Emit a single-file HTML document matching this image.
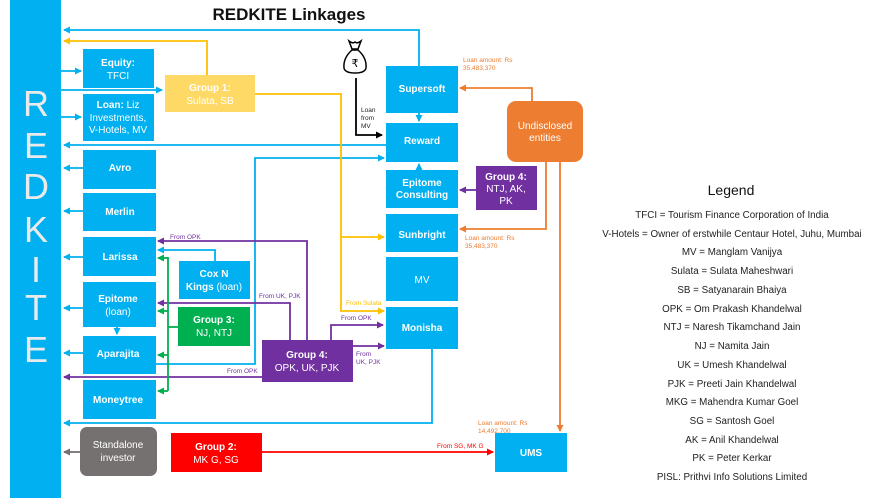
<!DOCTYPE html>
<html><head><meta charset="utf-8"><style>
html,body{margin:0;padding:0;background:#fff;}
svg{display:block;font-family:"Liberation Sans",sans-serif;}
.bw{fill:#fff;font-weight:bold;font-size:10px;text-anchor:middle;}
.w{fill:#fff;font-size:10px;text-anchor:middle;}
.lg{font-size:9.8px;text-anchor:middle;fill:#222;}
.s{font-size:6.5px;}
</style></head><body>
<svg width="885" height="498" viewBox="0 0 885 498" xmlns="http://www.w3.org/2000/svg">
<defs>
<marker id="ab" markerWidth="8" markerHeight="8" refX="6" refY="4" orient="auto" markerUnits="userSpaceOnUse"><path d="M0,0.5 L7,4 L0,7.5z" fill="#00b0f0"/></marker>
<marker id="ay" markerWidth="8" markerHeight="8" refX="6" refY="4" orient="auto" markerUnits="userSpaceOnUse"><path d="M0,0.5 L7,4 L0,7.5z" fill="#ffc000"/></marker>
<marker id="ap" markerWidth="8" markerHeight="8" refX="6" refY="4" orient="auto" markerUnits="userSpaceOnUse"><path d="M0,0.5 L7,4 L0,7.5z" fill="#7030a0"/></marker>
<marker id="ag" markerWidth="8" markerHeight="8" refX="6" refY="4" orient="auto" markerUnits="userSpaceOnUse"><path d="M0,0.5 L7,4 L0,7.5z" fill="#00b050"/></marker>
<marker id="ao" markerWidth="8" markerHeight="8" refX="6" refY="4" orient="auto" markerUnits="userSpaceOnUse"><path d="M0,0.5 L7,4 L0,7.5z" fill="#ed7d31"/></marker>
<marker id="ar" markerWidth="8" markerHeight="8" refX="6" refY="4" orient="auto" markerUnits="userSpaceOnUse"><path d="M0,0.5 L7,4 L0,7.5z" fill="#ff0000"/></marker>
<marker id="ak" markerWidth="8" markerHeight="8" refX="6" refY="4" orient="auto" markerUnits="userSpaceOnUse"><path d="M0,0.5 L7,4 L0,7.5z" fill="#000"/></marker>
<marker id="agr" markerWidth="8" markerHeight="8" refX="6" refY="4" orient="auto" markerUnits="userSpaceOnUse"><path d="M0,0.5 L7,4 L0,7.5z" fill="#767171"/></marker>
</defs>

<rect x="10" y="0" width="51" height="498" fill="#00b0f0"/>
<g fill="#eaeaea" font-size="36" text-anchor="middle">
<text x="36" y="116">R</text><text x="36" y="158">E</text><text x="36" y="199">D</text><text x="36" y="242">K</text><text x="36" y="282">I</text><text x="36" y="320">T</text><text x="36" y="362">E</text>
</g>
<text x="289" y="20" font-size="17" font-weight="bold" text-anchor="middle" fill="#111">REDKITE Linkages</text>

<g stroke="#00b0f0" stroke-width="1.8" fill="none">
<path d="M419,66 V30 H64" marker-end="url(#ab)"/>
<path d="M61,71 H81" marker-end="url(#ab)"/>
<path d="M61,90 H162" marker-end="url(#ab)"/>
<path d="M61,117 H81" marker-end="url(#ab)"/>
<path d="M386,145 H64" marker-end="url(#ab)"/>
<path d="M156,364 H255 V158 H384" marker-end="url(#ab)"/>
<path d="M83,168 H64" marker-end="url(#ab)"/>
<path d="M83,211 H64" marker-end="url(#ab)"/>
<path d="M83,257 H64" marker-end="url(#ab)"/>
<path d="M83,308 H64" marker-end="url(#ab)"/>
<path d="M83,353 H64" marker-end="url(#ab)"/>
<path d="M117,327 V334" marker-end="url(#ab)"/>
<path d="M419,113 V121" marker-end="url(#ab)"/>
<path d="M419,170 V164" marker-end="url(#ab)"/>
<path d="M215,261 V250 H158" marker-end="url(#ab)"/>
<path d="M432,349 V423 H64" marker-end="url(#ab)"/>
</g>
<g stroke="#ffc000" stroke-width="1.8" fill="none">
<path d="M207,75 V41 H64" marker-end="url(#ay)"/>
<path d="M255,94 H341 V311 H384" marker-end="url(#ay)"/>
<path d="M341,237 H384" marker-end="url(#ay)"/>
</g>
<g stroke="#7030a0" stroke-width="1.8" fill="none">
<path d="M307,340 V241 H158" marker-end="url(#ap)"/>
<path d="M290,340 V303 H158" marker-end="url(#ap)"/>
<path d="M331,340 V325 H383" marker-end="url(#ap)"/>
<path d="M353,346 H384" marker-end="url(#ap)"/>
<path d="M262,377 H64" marker-end="url(#ap)"/>
<path d="M476,190 H460" marker-end="url(#ap)"/>
</g>
<g stroke="#00b050" stroke-width="1.8" fill="none">
<path d="M178,327 H168"/>
<path d="M168,257 V391"/>
<path d="M168,258 H158" marker-end="url(#ag)"/>
<path d="M168,311 H158" marker-end="url(#ag)"/>
<path d="M168,355 H158" marker-end="url(#ag)"/>
<path d="M168,391 H158" marker-end="url(#ag)"/>
</g>
<g stroke="#ed7d31" stroke-width="1.8" fill="none">
<path d="M532,101 V88 H460" marker-end="url(#ao)"/>
<path d="M546,162 V229 H460" marker-end="url(#ao)"/>
<path d="M560,162 V431" marker-end="url(#ao)"/>
</g>
<path d="M262,452 H493" stroke="#ff0000" stroke-width="1.8" fill="none" marker-end="url(#ar)"/>
<path d="M80,452 H64" stroke="#767171" stroke-width="1.8" fill="none" marker-end="url(#agr)"/>
<path d="M356,78 V135 H382" stroke="#000" stroke-width="1.8" fill="none" marker-end="url(#ak)"/>

<g stroke="#000" stroke-width="1.5" fill="#fff">
<path d="M349,41 Q353,44 355,42 Q357,44 361,41 L358,49 L352,49 Z"/>
<path d="M352,50 Q343,58 344,68 Q345,73 355,73 Q365,73 366,68 Q367,58 358,50 Z"/>
</g>
<text x="355" y="67" font-size="11" text-anchor="middle" fill="#000">₹</text>
<text class="s" x="361" y="112" fill="#222">Loan</text>
<text class="s" x="361" y="120" fill="#222">from</text>
<text class="s" x="361" y="128" fill="#222">MV</text>

<g fill="#00b0f0">
<rect x="83" y="49" width="71" height="39"/>
<rect x="83" y="94" width="71" height="47"/>
<rect x="83" y="150" width="73" height="39"/>
<rect x="83" y="193" width="73" height="38"/>
<rect x="83" y="237" width="73" height="39"/>
<rect x="83" y="282" width="73" height="45"/>
<rect x="83" y="336" width="73" height="38"/>
<rect x="83" y="380" width="73" height="39"/>
<rect x="179" y="261" width="71" height="38"/>
<rect x="386" y="66" width="72" height="47"/>
<rect x="386" y="123" width="72" height="39"/>
<rect x="386" y="170" width="72" height="38"/>
<rect x="386" y="214" width="72" height="38"/>
<rect x="386" y="257" width="72" height="44"/>
<rect x="386" y="307" width="72" height="42"/>
<rect x="495" y="433" width="72" height="39"/>
</g>
<rect x="178" y="307" width="72" height="39" fill="#00b050"/>
<rect x="262" y="340" width="91" height="42" fill="#7030a0"/>
<rect x="476" y="166" width="61" height="44" fill="#7030a0"/>
<rect x="80" y="427" width="77" height="49" rx="7" fill="#767171"/>
<rect x="171" y="433" width="91" height="39" fill="#ff0000"/>
<rect x="165" y="75" width="90" height="37" fill="#ffd966"/>
<rect x="507" y="101" width="76" height="61" rx="9" fill="#ed7d31"/>

<text class="bw" x="118" y="66">Equity:</text><text class="w" x="118" y="79">TFCI</text>
<text class="w" x="118" y="108"><tspan font-weight="bold">Loan:</tspan> Liz</text>
<text class="w" x="118" y="121">Investments,</text>
<text class="w" x="118" y="133">V-Hotels, MV</text>
<text class="bw" x="120" y="171">Avro</text>
<text class="bw" x="120" y="215">Merlin</text>
<text class="bw" x="120" y="260">Larissa</text>
<text class="bw" x="118" y="302">Epitome</text><text class="w" x="118" y="315">(loan)</text>
<text class="bw" x="118" y="357">Aparajita</text>
<text class="bw" x="118" y="403">Moneytree</text>
<text class="bw" x="214" y="277">Cox N</text><text class="w" x="214" y="290"><tspan font-weight="bold">Kings</tspan> (loan)</text>
<text class="bw" x="214" y="323">Group 3:</text><text class="w" x="214" y="336">NJ, NTJ</text>
<text class="bw" x="307" y="358">Group 4:</text><text class="w" x="307" y="371">OPK, UK, PJK</text>
<text class="w" x="118" y="448">Standalone</text><text class="w" x="118" y="461">investor</text>
<text class="bw" x="216" y="450">Group 2:</text><text class="w" x="216" y="463">MK G, SG</text>
<text class="bw" x="210" y="91">Group 1:</text><text class="w" x="210" y="104">Sulata, SB</text>
<text class="bw" x="422" y="92">Supersoft</text>
<text class="bw" x="422" y="144">Reward</text>
<text class="bw" x="422" y="186">Epitome</text><text class="bw" x="422" y="198">Consulting</text>
<text class="bw" x="422" y="238">Sunbright</text>
<text class="w" x="422" y="283">MV</text>
<text class="bw" x="422" y="331">Monisha</text>
<text class="bw" x="506" y="180">Group 4:</text><text class="w" x="506" y="192">NTJ, AK,</text><text class="w" x="506" y="204">PK</text>
<text class="w" x="545" y="129">Undisclosed</text><text class="w" x="545" y="141">entities</text>
<text class="bw" x="531" y="456">UMS</text>

<g class="s">
<text x="463" y="62" fill="#ed7d31">Loan amount: Rs</text><text x="463" y="70" fill="#ed7d31">35,483,370</text>
<text x="465" y="240" fill="#ed7d31">Loan amount: Rs</text><text x="465" y="248" fill="#ed7d31">35,483,370</text>
<text x="478" y="425" fill="#ed7d31">Loan amount: Rs</text><text x="478" y="433" fill="#ed7d31">14,492,700</text>
<text x="437" y="448" fill="#ff0000">From SG, MK G</text>
<text x="346" y="305" fill="#ffc000">From Sulata</text>
<text x="170" y="239" fill="#7030a0">From OPK</text>
<text x="259" y="298" fill="#7030a0">From UK, PJK</text>
<text x="341" y="320" fill="#7030a0">From OPK</text>
<text x="356" y="356" fill="#7030a0">From</text><text x="356" y="364" fill="#7030a0">UK, PJK</text>
<text x="227" y="373" fill="#7030a0">From OPK</text>
</g>

<text x="731" y="195" font-size="14" text-anchor="middle" fill="#111">Legend</text>
<g class="lg">
<text x="732" y="218">TFCI = Tourism Finance Corporation of India</text>
<text x="732" y="237">V-Hotels = Owner of erstwhile Centaur Hotel, Juhu, Mumbai</text>
<text x="732" y="255">MV = Manglam Vanijya</text>
<text x="732" y="274">Sulata = Sulata Maheshwari</text>
<text x="732" y="293">SB = Satyanarain Bhaiya</text>
<text x="732" y="312">OPK = Om Prakash Khandelwal</text>
<text x="732" y="330">NTJ = Naresh Tikamchand Jain</text>
<text x="732" y="349">NJ = Namita Jain</text>
<text x="732" y="368">UK = Umesh Khandelwal</text>
<text x="732" y="387">PJK = Preeti Jain Khandelwal</text>
<text x="732" y="405">MKG = Mahendra Kumar Goel</text>
<text x="732" y="424">SG = Santosh Goel</text>
<text x="732" y="443">AK = Anil Khandelwal</text>
<text x="732" y="461">PK = Peter Kerkar</text>
<text x="732" y="480">PISL: Prithvi Info Solutions Limited</text>
</g>
</svg>
</body></html>
